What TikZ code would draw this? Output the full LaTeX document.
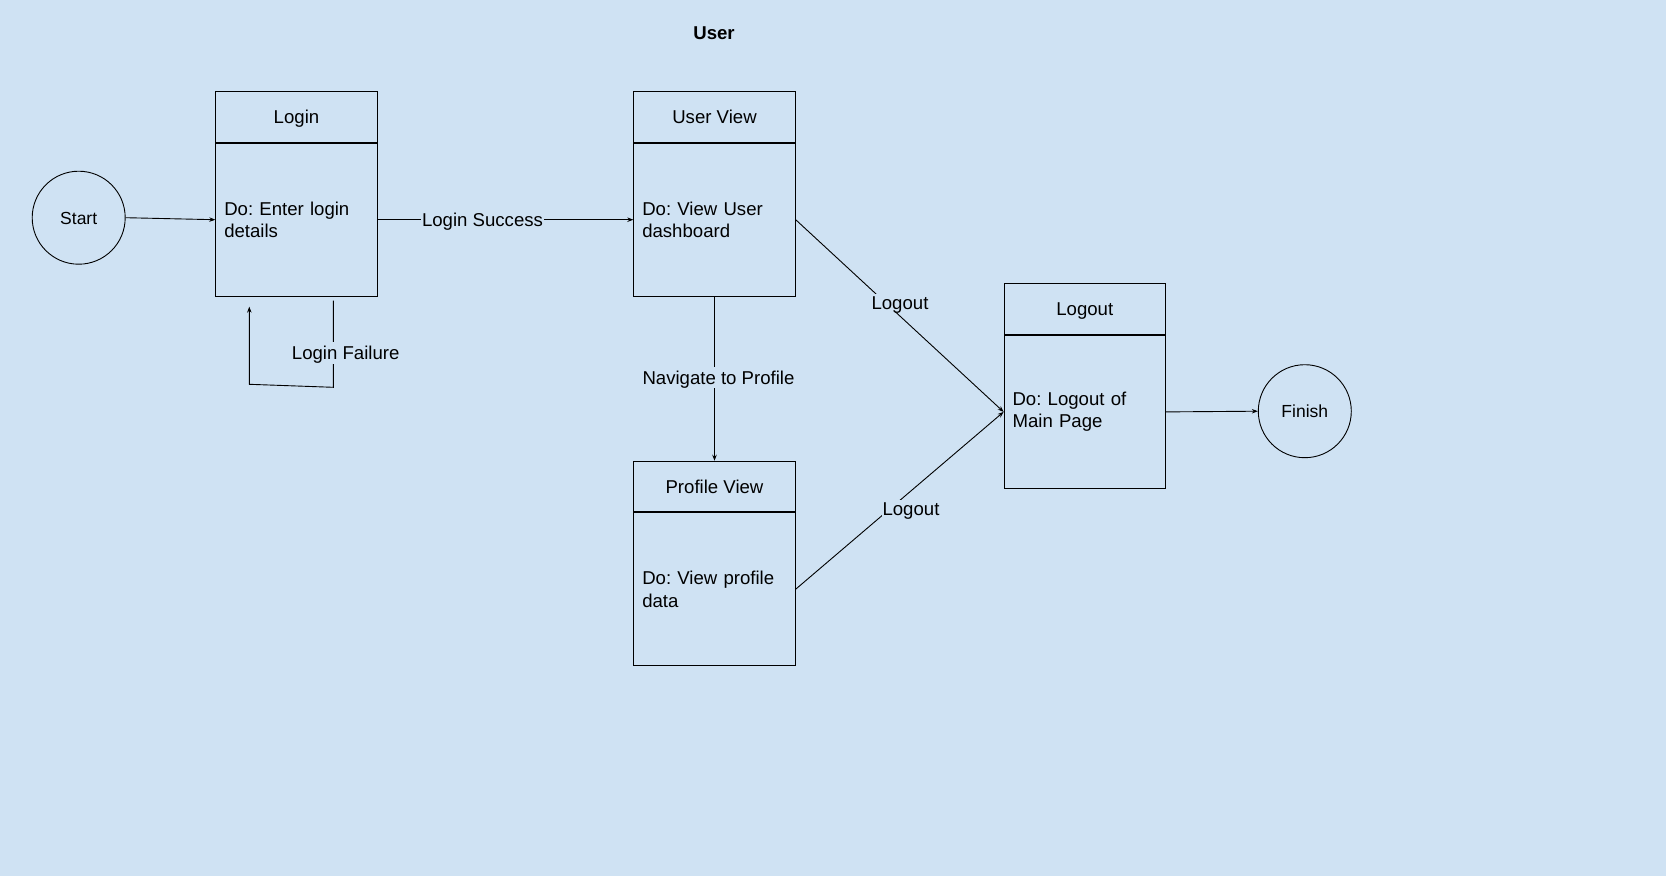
\documentclass[tikz,border=0pt]{standalone}
\usepackage{fontspec}
\setmainfont{Liberation Sans}
\usetikzlibrary{arrows.meta}
\definecolor{bg}{HTML}{CFE2F3}
\tikzset{
  every node/.style={font=\fontsize{18.6}{22.3}\selectfont},
  capc/.style={text height=13.4pt, text depth=0pt},
  hdr/.style={draw, capc, line width=0.9pt, minimum width=161.5pt, minimum height=50.6pt, inner sep=0pt},
  body/.style={draw, line width=0.9pt, minimum height=153pt, inner xsep=8.5pt, inner ysep=0pt, text width=144.5pt, align=left},
  state/.style={draw, circle, line width=0.9pt, minimum size=93pt, inner sep=0pt, font=\fontsize{17.5}{21}\selectfont, text height=12.6pt, text depth=0pt},
  arr/.style={line width=0.9pt, -{Stealth[length=6pt,width=4.5pt]}},
  lbl/.style={fill=bg, capc, inner xsep=1pt, inner ysep=4pt}
}
\begin{document}
\frenchspacing
\begin{tikzpicture}[x=1pt,y=-1pt]
\fill[bg] (0,0) rectangle (1666,876);
\useasboundingbox (0,0) rectangle (1666,876);

\node[capc, font=\bfseries\fontsize{18.6}{22.3}\selectfont] (title) at (714,33) {User};

\node[state] (start) at (78.7,217.7) {Start};
\node[state] (finish) at (1304.8,411.2) {Finish};

\node[hdr] (loginH) at (296.5,117) {Login};
\node[body, anchor=north] (loginB) at (loginH.south) {Do: Enter login\\details};

\node[hdr] (uvH) at (714.5,117) {User View};
\node[body, anchor=north] (uvB) at (uvH.south) {Do: View User\\dashboard};

\node[hdr] (pvH) at (714.5,486.5) {Profile View};
\node[body, anchor=north] (pvB) at (pvH.south) {Do: View profile\\data};

\node[hdr] (loH) at (1084.8,309.2) {Logout};
\node[body, anchor=north] (loB) at (loH.south) {Do: Logout of\\Main Page};

\draw[arr] (start.east) -- (loginB.west);
\draw[arr] (loginB.east) -- node[lbl, pos=0.41] (ls) {Login Success} (uvB.west);
\draw[arr] (uvB.south) -- node[lbl, pos=0.493, xshift=4pt] (np) {Navigate to Profile} (pvH.north);
\draw[arr] (uvB.east) -- (loB.west);
\draw[arr] (pvB.east) -- (loB.west);
\node[lbl, inner ysep=2pt] (lo1) at (900,303) {Logout};
\node[lbl, inner ysep=2pt] (lo2) at (911,508.5) {Logout};
\draw[arr] (loB.east) -- (finish.west);

\coordinate (lfa) at (333.3,387.3);
\coordinate (lfb) at (249.3,384.3);
\draw[arr] ([shift={(36.8,4)}]loginB.south) -- (lfa) -- (lfb) -- ([shift={(-47.2,10)}]loginB.south);
\node[lbl] (lf) at (345.7,353) {Login Failure};
\end{tikzpicture}
\end{document}
